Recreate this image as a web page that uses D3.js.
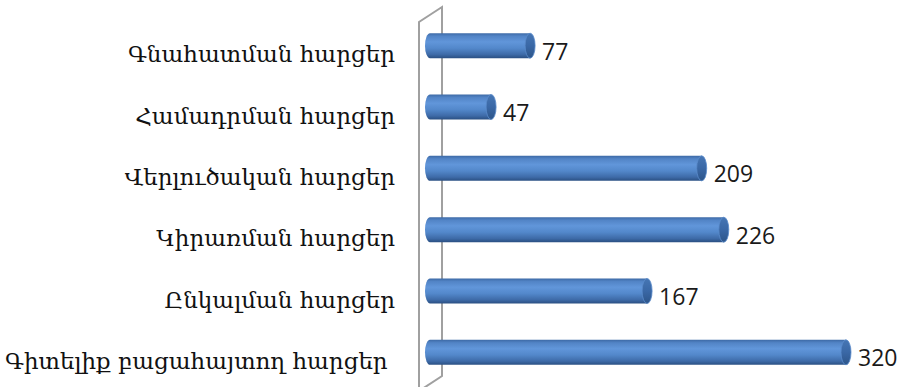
<!DOCTYPE html>
<html>
<head>
<meta charset="utf-8">
<script src="https://cdn.jsdelivr.net/npm/d3@7"></script>
<style>
  html, body { margin: 0; padding: 0; background: #fff; }
  svg { display: block; }
</style>
</head>
<body>
<svg id="chart" width="901" height="387"></svg>
<script>
// Question types and how many of each
const categories = [
  "Գնահատման հարցեր",
  "Համադրման հարցեր",
  "Վերլուծական հարցեր",
  "Կիրառման հարցեր",
  "Ընկալման հարցեր",
  "Գիտելիք բացահայտող հարցեր "
];
const values = [77, 47, 209, 226, 167, 320];

(function () {
  const H = 387;
  const svg = d3.select("#chart");

  const x = d3.scaleLinear().domain([0, 320]).range([430, 846]);
  const y = d3.scalePoint().domain(categories).range([15, 383]).padding(0.5);

  const barH = 25;       // cylinder diameter
  const capRx = 5;       // half-width of the elliptical end caps
  const depthDx = 23, depthDy = -15;   // offset of the back wall

  // cylinder shading
  const defs = svg.append("defs");
  const g1 = defs.append("linearGradient").attr("id", "cyl")
    .attr("x1", 0).attr("y1", 0).attr("x2", 0).attr("y2", 1);
  [["0%", "#3d6aa6"], ["12%", "#5284c6"], ["35%", "#6196da"], ["60%", "#5388cb"],
   ["85%", "#3e6ba8"], ["100%", "#2a4f82"]].forEach(([o, c]) =>
    g1.append("stop").attr("offset", o).attr("stop-color", c));
  const g2 = defs.append("linearGradient").attr("id", "capg")
    .attr("x1", 0).attr("y1", 0).attr("x2", 0).attr("y2", 1);
  [["0%", "#4676b4"], ["50%", "#3a68a6"], ["100%", "#2d5589"]].forEach(([o, c]) =>
    g2.append("stop").attr("offset", o).attr("stop-color", c));

  // 3D wall behind the bars
  const frontX = 419, wallTop = 22;
  const wall = svg.append("g").attr("fill", "none").attr("stroke", "#a0a0a0").attr("stroke-width", 2);
  wall.append("path").attr("d",
    `M${frontX},${H + 5} L${frontX},${wallTop} L${frontX + depthDx},${wallTop + depthDy} ` +
    `L${frontX + depthDx},376 L${frontX + depthDx - 26},${376 + 17}`);

  // bars
  const bars = svg.append("g").selectAll("g").data(categories).join("g");
  bars.each(function (c, i) {
    const g = d3.select(this);
    const cy = y(c), x0 = x(0), x1 = x(values[i]);
    const r = barH / 2;
    // body with rounded left end
    g.append("path")
      .attr("d", `M${x1},${cy - r} L${x0},${cy - r} A${capRx},${r} 0 0 0 ${x0},${cy + r} L${x1},${cy + r} Z`)
      .attr("fill", "url(#cyl)");
    // right end cap
    g.append("ellipse")
      .attr("cx", x1).attr("cy", cy).attr("rx", capRx).attr("ry", r)
      .attr("fill", "url(#capg)").attr("stroke", "#5a8ccc").attr("stroke-width", 0.8);
  });

  // value labels
  svg.append("g").selectAll("text").data(categories).join("text")
    .attr("x", (c, i) => x(values[i]) + capRx + 7)
    .attr("y", c => y(c) + 14)
    .attr("font-family", "'Open Sans', Lato, sans-serif")
    .attr("font-size", 23)
    .attr("fill", "#1a1a1a")
    .text((c, i) => values[i]);

  // category labels
  svg.append("g").selectAll("text").data(categories).join("text")
    .attr("x", 395)
    .attr("y", c => y(c) + 16.5)
    .attr("text-anchor", "end")
    .style("white-space", "pre")
    .attr("font-family", "'DejaVu Serif', serif")
    .attr("font-size", 23)
    .attr("fill", "#111")
    .text(c => c);
})();
</script>
</body>
</html>
